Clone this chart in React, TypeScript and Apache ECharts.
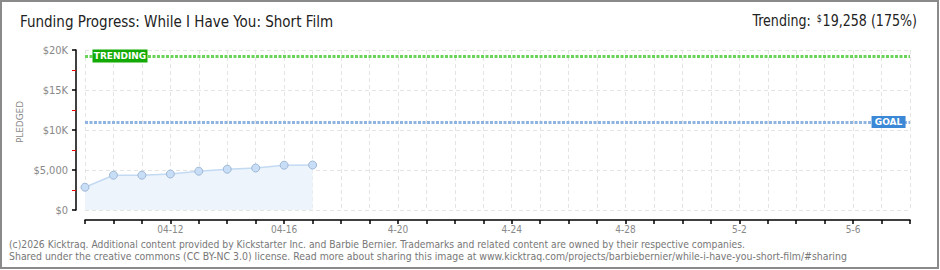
import React, { useEffect, useRef } from "react";
import * as echarts from "echarts";

const categories = [
  "04-09", "04-10", "04-11", "04-12", "04-13", "04-14", "04-15", "04-16", "04-17", "04-18", "04-19",
  "4-20", "4-21", "4-22", "4-23", "4-24", "4-25", "4-26", "4-27", "4-28", "4-29", "4-30",
  "5-1", "5-2", "5-3", "5-4", "5-5", "5-6", "5-7", "5-8",
];
const pledged = [2850, 4350, 4350, 4500, 4850, 5100, 5250, 5600, 5620];
const goal = 11000;
const trending = 19258;
const yTickLabels: Record<number, string> = { 0: "$0", 5000: "$5,000", 10000: "$10K", 15000: "$15K", 20000: "$20K" };

const titleText = "Funding Progress: While I Have You: Short Film";
const footer1 = "(c)2026 Kicktraq. Additional content provided by Kickstarter Inc. and Barbie Bernier. Trademarks and related content are owned by their respective companies.";
const footer2 = "Shared under the creative commons (CC BY-NC 3.0) license. Read more about sharing this image at www.kicktraq.com/projects/barbiebernier/while-i-have-you-short-film/#sharing";

const FONT = "'Liberation Sans Narrow', 'DejaVu Sans Condensed', sans-serif";

export default function App() {
  const ref = useRef<HTMLDivElement>(null);
  useEffect(() => {
    document.body.style.margin = "0";
    if (!ref.current) return;
    const chart = echarts.init(ref.current, null, { renderer: "svg" });
    chart.setOption({
      animation: false,
      backgroundColor: "#ffffff",
      grid: { left: 85, right: 30, top: 50, bottom: 60 },
      xAxis: {
        type: "category",
        data: categories,
        boundaryGap: false,
        offset: 10,
        axisLine: { show: true, onZero: false, lineStyle: { color: "#000", width: 1.5 } },
        axisTick: { show: true, interval: 0, length: 4, lineStyle: { color: "#000", width: 1.5 } },
        axisLabel: {
          interval: (i: number) => i % 4 === 3,
          color: "#888",
          fontSize: 10,
          fontFamily: FONT,
          margin: 4,
        },
        splitLine: { show: true, interval: 0, lineStyle: { color: "#e4e4e4", type: [4, 3], width: 1 } },
      },
      yAxis: {
        type: "value",
        min: 0,
        max: 20000,
        interval: 5000,
        offset: 9,
        axisLine: { show: true, onZero: false, lineStyle: { color: "#000", width: 1.5 } },
        axisTick: { show: true, length: 4, lineStyle: { color: "#000", width: 1.5 } },
        minorTick: { show: true, splitNumber: 2, length: 4, lineStyle: { color: "#ee0000", width: 1 } },
        axisLabel: {
          formatter: (v: number) => yTickLabels[v] ?? "",
          color: "#888",
          fontSize: 11,
          fontFamily: FONT,
          margin: 8,
        },
        splitLine: { show: true, lineStyle: { color: "#e4e4e4", type: [4, 3], width: 1 } },
      },
      graphic: [
        { type: "rect", shape: { x: 1, y: 1, width: 937, height: 267 }, style: { fill: "none", stroke: "#8a8a8a", lineWidth: 2 } },
        { type: "text", x: 20, y: 22, style: { text: titleText, fill: "#222", font: `15px ${FONT}`, verticalAlign: "middle" } },
        {
          type: "text",
          x: 917,
          y: 21,
          scaleX: 0.88,
          style: {
            text: "{a|Trending:}  {s|$}{b|19,258 (175%)}",
            align: "right",
            verticalAlign: "middle",
            rich: {
              a: { fill: "#222", font: `16px ${FONT}` },
              s: { fill: "#222", font: `10px ${FONT}`, verticalAlign: "top", padding: [0, 1, 6, 0] },
              b: { fill: "#222", font: `16px ${FONT}` },
            },
          },
        },
        {
          type: "text",
          x: 20,
          y: 122,
          rotation: Math.PI / 2,
          scaleX: 1.1,
          style: { text: "PLEDGED", fill: "#888", font: `9px ${FONT}`, align: "center", verticalAlign: "middle" },
        },
        { type: "text", x: 9, y: 244, scaleX: 0.933, style: { text: footer1, fill: "#777", font: `11px ${FONT}`, verticalAlign: "middle" } },
        { type: "text", x: 9, y: 256, scaleX: 0.947, style: { text: footer2, fill: "#777", font: `11px ${FONT}`, verticalAlign: "middle" } },
      ],
      series: [
        {
          type: "line",
          data: pledged,
          symbol: "circle",
          symbolSize: 8,
          showSymbol: true,
          itemStyle: { color: "#c8def7", borderColor: "#9fb8d6", borderWidth: 1 },
          lineStyle: { color: "#c3daf3", width: 1.5 },
          areaStyle: { color: "#edf4fc", opacity: 1 },
          markLine: {
            silent: true,
            symbol: ["none", "none"],
            label: { show: false },
            data: [
              { yAxis: trending, lineStyle: { color: "#6ad35a", width: 3, type: [3, 1.5] } },
              { yAxis: goal, lineStyle: { color: "#8fb4e0", width: 3, type: [3, 1.5] } },
            ],
          },
          markPoint: {
            silent: true,
            data: [
              {
                coord: [categories[0], trending],
                symbol: "rect",
                symbolSize: [55, 13],
                symbolOffset: [35, 0],
                itemStyle: { color: "#14aa05" },
                label: { show: true, formatter: "TRENDING", color: "#fff", fontSize: 9, fontWeight: "bold", fontFamily: "DejaVu Sans" },
              },
              {
                coord: [categories[28], goal],
                symbol: "rect",
                symbolSize: [34, 12],
                symbolOffset: [7, 0],
                itemStyle: { color: "#3a88d6" },
                label: { show: true, formatter: "GOAL", color: "#fff", fontSize: 9, fontWeight: "bold", fontFamily: "DejaVu Sans" },
              },
            ],
          },
        },
      ],
    });
    return () => chart.dispose();
  }, []);
  return <div ref={ref} style={{ width: 940, height: 270 }} />;
}
